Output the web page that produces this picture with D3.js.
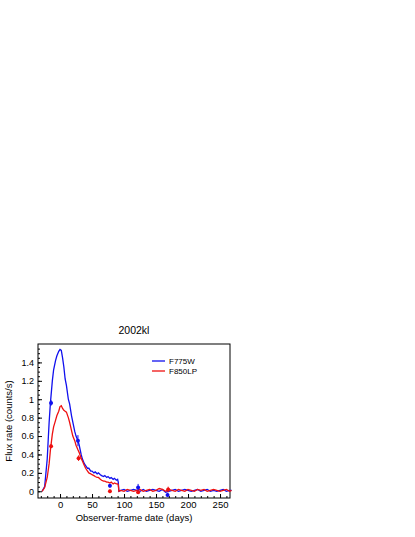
<!DOCTYPE html>
<html><head><meta charset="utf-8">
<script src="https://cdn.jsdelivr.net/npm/d3@7"></script>
<style>body{margin:0;background:#fff}text{font-family:"Liberation Sans",Arial,sans-serif}</style>
</head><body><svg id="c" width="415" height="537"></svg>
<script>
var days = [-28,-24,-20,-17,-15,-12,-10,-7,-5,-2,0,2,4,6,8,10,13,15,18,20,23,25,28,30,33,35,38,40,43,45,48,50,53,55,58,60,63,65,68,70,73,75,78,80,83,85,88,90,91,92,95,100,105,110,115,120,125,130,135,140,145,150,155,160,165,170,175,180,185,190,195,200,205,210,215,220,225,230,235,240,245,250,255,260,265,268];
var f775 = [0,0.05,0.35,0.75,0.96,1.2,1.32,1.42,1.47,1.52,1.54,1.53,1.45,1.35,1.22,1.15,1.0,0.95,0.82,0.75,0.65,0.6,0.55,0.5,0.4,0.35,0.3,0.28,0.25,0.25,0.22,0.22,0.2,0.21,0.19,0.2,0.18,0.17,0.16,0.17,0.15,0.16,0.14,0.15,0.13,0.14,0.12,0.13,0.1,0.0,0.01,0.02,0.0,0.01,0.02,0.01,0.0,0.02,0.0,0.01,0.02,0.01,0.0,0.02,-0.01,0.0,0.01,0.02,0.0,0.01,0.02,0.01,0.0,0.01,0.02,0.0,0.01,0.02,0.0,0.01,0.0,0.01,0.02,0.0,0.01,0.01];
var f850 = [0,0.04,0.15,0.3,0.45,0.62,0.7,0.77,0.82,0.87,0.92,0.93,0.9,0.88,0.87,0.86,0.8,0.75,0.66,0.6,0.55,0.5,0.45,0.42,0.36,0.33,0.28,0.25,0.22,0.2,0.19,0.18,0.17,0.16,0.15,0.15,0.13,0.12,0.11,0.11,0.1,0.1,0.09,0.1,0.08,0.09,0.08,0.08,0.07,0.0,0.01,0.0,0.02,0.01,0.0,0.01,0.02,0.0,0.01,0.02,0.0,0.01,0.03,0.02,0.0,0.02,0.01,0.0,0.02,0.01,0.0,0.02,0.01,0.0,0.02,0.01,0.02,0.0,0.01,0.02,0.01,0.0,0.01,0.02,0.0,0.01];
var ptsBlue = [[-14,0.96,0.03],[28,0.55,0.06],[78,0.06,0.02],[122,0.04,0.04],[168,-0.04,0.02]];
var ptsRed = [[-14,0.49,0.02],[29,0.36,0.03],[78,0.0,0.02],[122,-0.01,0.02],[169,0.02,0.03]];
var xTicks = [0,50,100,150,200,250];
var yTicks = [0,0.2,0.4,0.6,0.8,1,1.2,1.4];

var svg = d3.select("#c");
var L=38,R=230,T=344,B=498;
var x = d3.scaleLinear().domain([-34.4,265.6]).range([L,R]);
var y = d3.scaleLinear().domain([-0.073,1.6]).range([B,T]);

svg.append("g").attr("transform","translate(0,"+B+")")
  .call(d3.axisBottom(x).tickValues(xTicks).tickSize(-4).tickPadding(3).tickFormat(d3.format("d")))
  .call(g=>{g.select(".domain").remove();g.selectAll("text").attr("font-size",9.5);});
svg.append("g").attr("transform","translate(0,"+B+")")
  .call(d3.axisBottom(x).tickValues(d3.range(-30,266,10)).tickSize(-2).tickFormat(""))
  .call(g=>g.select(".domain").remove());
svg.append("g").attr("transform","translate("+L+",0)")
  .call(d3.axisLeft(y).tickValues(yTicks).tickSize(-4).tickPadding(4).tickFormat(d=>d3.format("~g")(d)))
  .call(g=>{g.select(".domain").remove();g.selectAll("text").attr("font-size",9);});
svg.append("g").attr("transform","translate("+L+",0)")
  .call(d3.axisLeft(y).tickValues(d3.range(0,1.6,0.05)).tickSize(-2).tickFormat(""))
  .call(g=>g.select(".domain").remove());
svg.append("rect").attr("x",L).attr("y",T).attr("width",R-L).attr("height",B-T)
  .attr("fill","none").attr("stroke","#000");

var line = d3.line().x((d,i)=>x(days[i])).y(d=>y(d));
svg.append("path").datum(f775).attr("d",line).attr("fill","none").attr("stroke","#1010ee").attr("stroke-width",1.3);
svg.append("path").datum(f850).attr("d",line).attr("fill","none").attr("stroke","#ee1010").attr("stroke-width",1.3);

function pts(data,c){
  var g=svg.append("g");
  data.forEach(function(p){
    g.append("line").attr("x1",x(p[0])).attr("x2",x(p[0])).attr("y1",y(p[1]-p[2])).attr("y2",y(p[1]+p[2])).attr("stroke",c);
    g.append("circle").attr("cx",x(p[0])).attr("cy",y(p[1])).attr("r",2).attr("fill",c);
  });
}
pts(ptsBlue,"#1010ee");pts(ptsRed,"#ee1010");

svg.append("text").attr("x",134).attr("y",334).attr("text-anchor","middle").attr("font-size",10.5).text("2002kl");
svg.append("text").attr("x",(L+R)/2).attr("y",521).attr("text-anchor","middle").attr("font-size",9.5).text("Observer-frame date (days)");
svg.append("text").attr("transform","translate(12,"+(T+B)/2+") rotate(-90)").attr("text-anchor","middle").attr("font-size",9.5).text("Flux rate (counts/s)");

[["F775W","#1010ee",361],["F850LP","#ee1010",371]].forEach(function(l){
  svg.append("line").attr("x1",152).attr("x2",165).attr("y1",l[2]).attr("y2",l[2]).attr("stroke",l[1]).attr("stroke-width",1.3);
  svg.append("text").attr("x",169).attr("y",l[2]+3).attr("font-size",8).text(l[0]);
});
</script></body></html>
